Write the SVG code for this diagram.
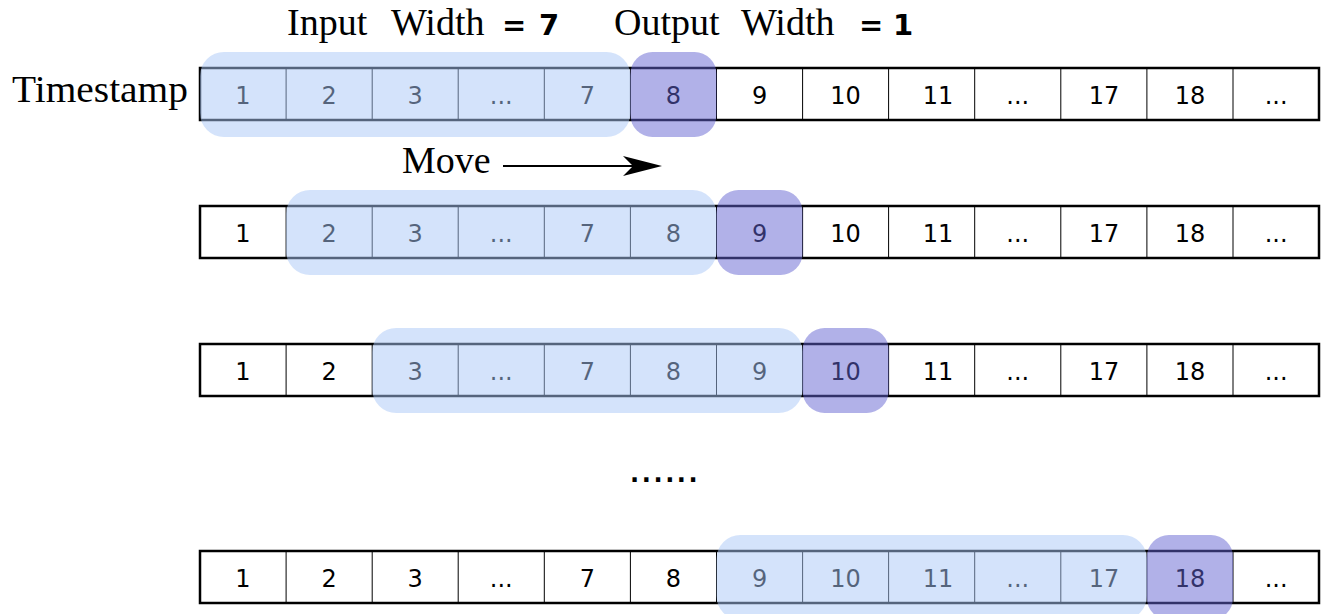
<svg xmlns="http://www.w3.org/2000/svg" width="1327" height="614" viewBox="0 0 1327 614">
  <style>
    .frame{fill:#fff;stroke:#000;stroke-width:2.5}
    .div{stroke:#000;stroke-width:1}
    .num{font-family:"DejaVu Sans",sans-serif;font-size:24px;fill:#000;text-anchor:middle}
    .serif{font-family:"Liberation Serif",serif;font-size:38px;fill:#000}
    .eq{font-family:"DejaVu Sans",sans-serif;font-weight:bold;font-size:29px;fill:#000}
    .dots{font-family:"DejaVu Sans",sans-serif;font-weight:bold;font-size:24px;fill:#000}
    .win{fill:#a9c8f8;fill-opacity:0.5}
    .out{fill:#6464d2;fill-opacity:0.5}
  </style>
  <defs>
    <g id="cells">
      <rect class="frame" x="200" y="0" width="1119" height="52"/>
      <path class="div" d="M286.1,0V52M372.2,0V52M458.2,0V52M544.3,0V52M630.4,0V52M716.5,0V52M802.6,0V52M888.6,0V52M974.7,0V52M1060.8,0V52M1146.9,0V52M1233,0V52"/>
      <text class="num" y="35.5"><tspan x="243">1</tspan><tspan x="329.1">2</tspan><tspan x="415.2">3</tspan><tspan x="501.3">...</tspan><tspan x="587.4">7</tspan><tspan x="673.5">8</tspan><tspan x="759.6">9</tspan><tspan x="845.6">10</tspan><tspan x="938">11</tspan><tspan x="1017.8">...</tspan><tspan x="1103.9">17</tspan><tspan x="1190">18</tspan><tspan x="1276.1">...</tspan></text>
    </g>
    <marker id="arr" markerWidth="42" markerHeight="24" refX="29" refY="10" orient="auto" markerUnits="userSpaceOnUse">
      <path d="M0,0 L39,10 L0,20 L10,10 Z" fill="#000"/>
    </marker>
  </defs>

  <g id="labels">
    <text class="serif" x="12" y="102" textLength="176" lengthAdjust="spacingAndGlyphs">Timestamp</text>
    <text class="serif" x="287" y="35">Input</text>
    <text class="serif" x="391" y="35">Width</text>
    <text class="eq" x="502" y="35">=</text>
    <text class="eq" x="539" y="35">7</text>
    <text class="serif" x="614" y="35">Output</text>
    <text class="serif" x="741" y="35">Width</text>
    <text class="eq" x="859" y="35">=</text>
    <text class="eq" x="893" y="35">1</text>
    <text class="serif" x="402" y="173">Move</text>
    <text class="dots" x="630" y="482" letter-spacing="2.6">......</text>
  </g>

  <g id="row1" transform="translate(0,68)"><use href="#cells"/></g>
  <g id="row2" transform="translate(0,206)"><use href="#cells"/></g>
  <g id="row3" transform="translate(0,344)"><use href="#cells"/></g>
  <g id="row4" transform="translate(0,551)"><use href="#cells"/></g>

  <g id="window1"><rect class="win" x="200" y="52" width="430.4" height="85" rx="24"/><rect class="out" x="630.4" y="52" width="86.1" height="85" rx="22"/></g>
  <g id="window2"><rect class="win" x="286.1" y="190" width="430.4" height="85" rx="24"/><rect class="out" x="716.5" y="190" width="86.1" height="85" rx="22"/></g>
  <g id="window3"><rect class="win" x="372.2" y="328" width="430.4" height="85" rx="24"/><rect class="out" x="802.6" y="328" width="86.1" height="85" rx="22"/></g>
  <g id="window4"><rect class="win" x="716.5" y="535" width="430.4" height="85" rx="24"/><rect class="out" x="1146.9" y="535" width="86.1" height="85" rx="22"/></g>

  <g id="connectors">
    <line x1="503" y1="166" x2="652" y2="166" stroke="#000" stroke-width="2" marker-end="url(#arr)"/>
  </g>
</svg>
